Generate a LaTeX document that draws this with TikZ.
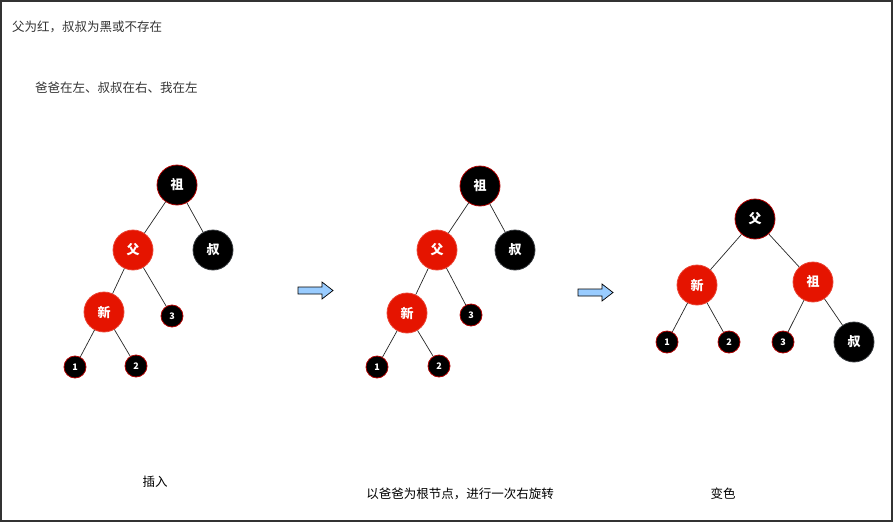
\documentclass[tikz,border=0pt]{standalone}
\usepackage{fontspec}
\setmainfont{Noto Sans CJK SC}
\definecolor{rbred}{HTML}{E51400}
\definecolor{rbedge}{HTML}{B20000}
\definecolor{arrowblue}{HTML}{99CCFF}
\definecolor{txtgray}{HTML}{333333}
\definecolor{uncleedge}{HTML}{36393D}
\tikzset{
    bignode/.style={circle, minimum size=40pt, inner sep=0pt,
        font=\fontsize{13}{15}\selectfont\bfseries, text=white},
    smallnode/.style={circle, minimum size=22pt, inner sep=0pt,
        fill=black, draw=rbedge, line width=0.8pt,
        font=\fontsize{9}{10}\selectfont\bfseries, text=white},
    rednode/.style={bignode, fill=rbred, draw=rbred!80!white, line width=0.8pt},
    blacknode/.style={bignode, fill=black, draw=rbedge, line width=0.8pt},
    unclenode/.style={bignode, fill=black, draw=uncleedge, line width=0.8pt},
    edge/.style={draw=black!85, line width=0.7pt},
    heading/.style={anchor=west, inner sep=0pt,
        font=\fontsize{12.5}{14}\selectfont, text=txtgray},
    caption/.style={font=\fontsize{12.5}{14}\selectfont, text=black},
    blockarrow/.style={draw=black, fill=arrowblue, line width=0.7pt,
        line join=miter},
}
\begin{document}
\begin{tikzpicture}[x=1pt, y=-1pt]
    \useasboundingbox (0,0) rectangle (893,522);
    \draw [line width=1.5pt, draw=black!80]
        (1,1) rectangle (892,521)
        ;

    % heading texts
    \node [heading] (cond) at (12,27) {父为红，叔叔为黑或不存在};
    \node [heading] (case) at (35,88) {爸爸在左、叔叔在右、我在左};

    % tree before rotation
    \node [blacknode] (zuA) at (177,185) {祖};
    \node [rednode]   (fuA) at (133,250) {父};
    \node [unclenode] (shuA) at (213,250) {叔};
    \node [rednode]   (xinA) at (104,312) {新};
    \node [smallnode] (threeA) at (172,316) {3};
    \node [smallnode] (oneA) at (75,367) {1};
    \node [smallnode] (twoA) at (136,366) {2};
    \draw [edge] (zuA) -- (fuA) (zuA) -- (shuA)
        (fuA) -- (xinA) (fuA) -- (threeA)
        (xinA) -- (oneA) (xinA) -- (twoA);

    % tree after insertion, same shape
    \node [blacknode] (zuB) at (480,186) {祖};
    \node [rednode]   (fuB) at (437,250) {父};
    \node [unclenode] (shuB) at (515,250) {叔};
    \node [rednode]   (xinB) at (407,313) {新};
    \node [smallnode] (threeB) at (471,315) {3};
    \node [smallnode] (oneB) at (377,367) {1};
    \node [smallnode] (twoB) at (439,366) {2};
    \draw [edge] (zuB) -- (fuB) (zuB) -- (shuB)
        (fuB) -- (xinB) (fuB) -- (threeB)
        (xinB) -- (oneB) (xinB) -- (twoB);

    % tree after rotation and recolouring
    \node [blacknode] (fuC) at (755,219) {父};
    \node [rednode]   (xinC) at (697,285) {新};
    \node [rednode]   (zuC) at (813,282) {祖};
    \node [smallnode] (oneC) at (667,342) {1};
    \node [smallnode] (twoC) at (729,342) {2};
    \node [smallnode] (threeC) at (783,342) {3};
    \node [unclenode] (shuC) at (854,342) {叔};
    \draw [edge] (fuC) -- (xinC) (fuC) -- (zuC)
        (xinC) -- (oneC) (xinC) -- (twoC)
        (zuC) -- (threeC) (zuC) -- (shuC);

    % block arrows
    \draw [blockarrow]
        (298,287) -- (322,287) -- (322,282) -- (333,290.5)
        -- (322,299) -- (322,294) -- (298,294) -- cycle;
    \draw [blockarrow]
        (578,289) -- (602,289) -- (602,284) -- (613,292.5)
        -- (602,301) -- (602,296) -- (578,296) -- cycle;

    % captions
    \node [caption] (capA) at (155,482) {插入};
    \node [caption] (capB) at (460,494) {以爸爸为根节点，进行一次右旋转};
    \node [caption] (capC) at (723,494) {变色};
\end{tikzpicture}
\end{document}
